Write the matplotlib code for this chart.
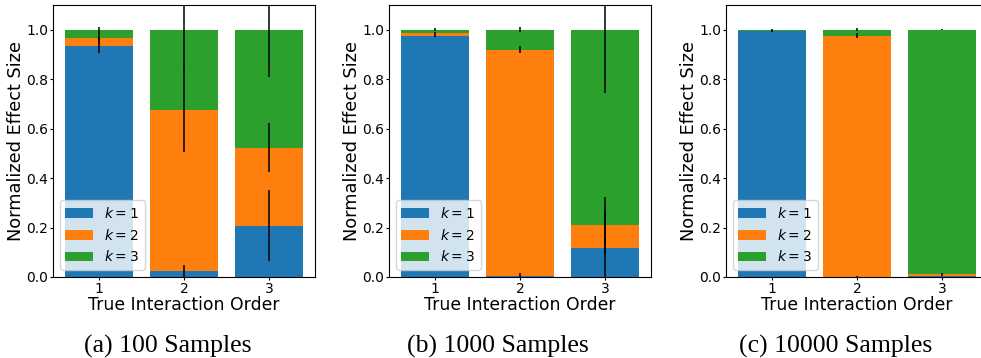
import numpy as np
import matplotlib
matplotlib.use("Agg")
import matplotlib.pyplot as plt

orders = [1, 2, 3]
labels = ["$k=1$", "$k=2$", "$k=3$"]
colors = ["#1f77b4", "#ff7f0e", "#2ca02c"]
captions = ["(a) 100 Samples", "(b) 1000 Samples", "(c) 10000 Samples"]

# share of each estimated order k, per true interaction order
k1_100 = [0.935, 0.025, 0.208]
k2_100 = [0.032, 0.652, 0.315]
k3_100 = [0.033, 0.323, 0.477]
e1_100 = [0.030, 0.025, 0.144]
e2_100 = [0.020, 0.170, 0.099]
e3_100 = [0.012, 0.155, 0.193]

k1_1000 = [0.976, 0.005, 0.118]
k2_1000 = [0.009, 0.914, 0.091]
k3_1000 = [0.015, 0.081, 0.791]
e1_1000 = [0.005, 0.010, 0.150]
e2_1000 = [0.004, 0.015, 0.116]
e3_1000 = [0.005, 0.010, 0.257]

k1_10000 = [0.993, 0.001, 0.005]
k2_10000 = [0.003, 0.975, 0.008]
k3_10000 = [0.004, 0.024, 0.987]
e1_10000 = [0.003, 0.002, 0.002]
e2_10000 = [0.002, 0.010, 0.003]
e3_10000 = [0.004, 0.005, 0.003]

panels = [
    ([k1_100, k2_100, k3_100], [e1_100, e2_100, e3_100]),
    ([k1_1000, k2_1000, k3_1000], [e1_1000, e2_1000, e3_1000]),
    ([k1_10000, k2_10000, k3_10000], [e1_10000, e2_10000, e3_10000]),
]

fig = plt.figure(figsize=(9.81, 3.58), dpi=100)
lefts = [0.054, 0.3965, 0.740]
cap_x = [0.171, 0.508, 0.852]

for i, (vals, errs) in enumerate(panels):
    ax = fig.add_axes([lefts[i], 0.2263, 0.267, 0.760])
    bottom = np.zeros(3)
    for j in range(3):
        ax.bar(orders, vals[j], bottom=bottom, yerr=errs[j], color=colors[j],
               label=labels[j], width=0.8, error_kw=dict(elinewidth=1.1))
        bottom = bottom + np.array(vals[j])
    ax.set_ylim(0, 1.1)
    ax.set_xticks(orders)
    ax.tick_params(labelsize=10, length=2, pad=1.5)
    ax.set_ylabel("Normalized Effect Size", fontsize=12.8, labelpad=0.5)
    ax.set_xlabel("True Interaction Order", fontsize=12.4, labelpad=0)
    ax.legend(loc="lower left", fontsize=10)
    fig.text(cap_x[i], 0.033, captions[i], ha="center", va="center",
             family="Liberation Serif", fontsize=18.5)

fig.savefig("out.png", dpi=100)
